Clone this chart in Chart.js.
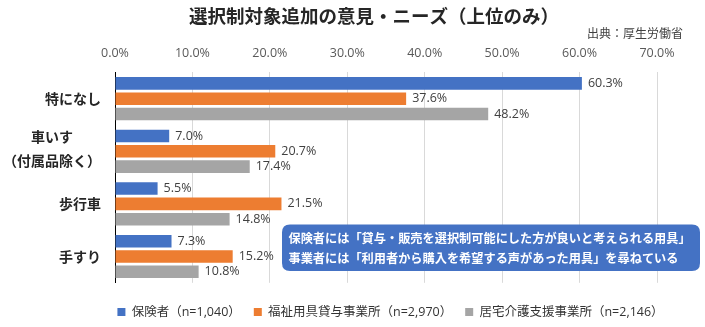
<!DOCTYPE html>
<html lang="ja">
<head>
<meta charset="utf-8">
<script src="https://cdn.jsdelivr.net/npm/chart.js@4"></script>
<style>
  html, body { margin: 0; padding: 0; background: #ffffff; }
  #wrap { width: 705px; height: 327px; }
</style>
</head>
<body>
<div id="wrap"><canvas id="c" width="705" height="327"></canvas></div>
<script>
// ---- data ----
const TITLE = '選択制対象追加の意見・ニーズ（上位のみ）';
const SOURCE = '出典：厚生労働省';
const CATEGORIES = ['特になし', ['車いす', '（付属品除く）'], '歩行車', '手すり'];
const SERIES_NAMES = ['保険者（n=1,040）', '福祉用具貸与事業所（n=2,970）', '居宅介護支援事業所（n=2,146）'];
const INSURER = [60.3, 7.0, 5.5, 7.3];
const RENTAL_PROVIDER = [37.6, 20.7, 21.5, 15.2];
const CARE_SUPPORT = [48.2, 17.4, 14.8, 10.8];
const X_TICKS = [0, 10, 20, 30, 40, 50, 60, 70];
const NOTE_LINES = [
  '保険者には「貸与・販売を選択制可能にした方が良いと考えられる用具」',
  '事業者には「利用者から購入を希望する声があった用具」を尋ねている'
];

// ---- styles ----
const JP = "'Noto Sans CJK JP', sans-serif";
const NUM = "'Open Sans', 'Noto Sans CJK JP', sans-serif";
const COLORS = ['#4472C4', '#ED7D31', '#A5A5A5'];

const legendFitPlugin = {
  id: 'legendFit',
  beforeLayout(chart) {
    const lg = chart.legend;
    if (lg && !lg._patched) {
      const orig = lg.fit;
      lg.fit = function () {
        const mw = this.maxWidth;
        this.maxWidth = 2000;
        orig.call(this);
        this.maxWidth = mw;
        this.width = mw;
        this.height = 44.2;
      };
      lg._patched = true;
    }
  },
  afterLayout(chart) {
    const lg = chart.legend;
    if (lg) {
      lg.left = 76;
      lg.right = 705;
      lg.width = lg.right - lg.left;
    }
  }
};

const decorPlugin = {
  id: 'decor',
  afterDraw(chart) {
    const ctx = chart.ctx;
    const y = chart.scales.y;
    ctx.save();
    // Title
    ctx.fillStyle = '#262626';
    ctx.font = `bold 18.5px ${JP}`;
    ctx.textAlign = 'center';
    ctx.textBaseline = 'middle';
    ctx.fillText(TITLE, 374, 16);
    // Source
    ctx.fillStyle = '#404040';
    ctx.font = `12px ${JP}`;
    ctx.textAlign = 'right';
    ctx.fillText(SOURCE, 683, 33.5);
    // Category labels
    ctx.fillStyle = '#262626';
    ctx.font = `bold 14px ${JP}`;
    ctx.textAlign = 'center';
    const right = 101;
    chart.data.labels.forEach((lab, i) => {
      const c = y.getPixelForTick(i);
      const lines = Array.isArray(lab) ? lab : [lab];
      const w = Math.max(...lines.map(l => ctx.measureText(l).width));
      const cx = right - w / 2;
      if (lines.length === 1) {
        ctx.fillText(lines[0], cx, c);
      } else {
        const lh = 24;
        const start = c - 2.5 - (lines.length - 1) * lh / 2;
        lines.forEach((l, k) => ctx.fillText(l, cx, start + k * lh));
      }
    });
    // Value labels
    ctx.fillStyle = '#404040';
    ctx.font = `12.5px ${NUM}`;
    ctx.textAlign = 'left';
    chart.data.datasets.forEach((ds, di) => {
      const meta = chart.getDatasetMeta(di);
      meta.data.forEach((bar, j) => {
        ctx.fillText(ds.data[j].toFixed(1) + '%', bar.x + 6, bar.y);
      });
    });
    // Note box
    const bx = 282, by = 224.5, bw = 418, bh = 46.5, r = 8;
    ctx.beginPath();
    ctx.moveTo(bx + r, by);
    ctx.lineTo(bx + bw - r, by);
    ctx.quadraticCurveTo(bx + bw, by, bx + bw, by + r);
    ctx.lineTo(bx + bw, by + bh - r);
    ctx.quadraticCurveTo(bx + bw, by + bh, bx + bw - r, by + bh);
    ctx.lineTo(bx + r, by + bh);
    ctx.quadraticCurveTo(bx, by + bh, bx, by + bh - r);
    ctx.lineTo(bx, by + r);
    ctx.quadraticCurveTo(bx, by, bx + r, by);
    ctx.closePath();
    ctx.fillStyle = '#4472C4';
    ctx.fill();
    ctx.fillStyle = '#ffffff';
    ctx.font = `bold 12.2px ${JP}`;
    ctx.textAlign = 'left';
    ctx.fillText(NOTE_LINES[0], 288.5, 238.5);
    ctx.fillText(NOTE_LINES[1], 288.5, 258.5);
    ctx.restore();
  }
};

new Chart(document.getElementById('c'), {
  type: 'bar',
  data: {
    labels: CATEGORIES,
    datasets: [
      { label: SERIES_NAMES[0], data: INSURER, backgroundColor: COLORS[0] },
      { label: SERIES_NAMES[1], data: RENTAL_PROVIDER, backgroundColor: COLORS[1] },
      { label: SERIES_NAMES[2], data: CARE_SUPPORT, backgroundColor: COLORS[2] }
    ]
  },
  options: {
    indexAxis: 'y',
    responsive: false,
    animation: false,
    devicePixelRatio: 1,
    layout: { padding: { top: 0, left: 0, right: 48, bottom: 0 } },
    datasets: { bar: { categoryPercentage: 0.873, barPercentage: 0.82 } },
    scales: {
      x: {
        position: 'top',
        min: X_TICKS[0],
        max: X_TICKS[X_TICKS.length - 1],
        afterBuildTicks(scale) { scale.ticks = X_TICKS.map(v => ({ value: v })); },
        afterFit(scale) { scale.height = 72.4; },
        grid: { color: '#d9d9d9', drawTicks: false, lineWidth: 1 },
        border: { display: false },
        ticks: {
          padding: 11.6,
          color: '#595959',
          font: { family: NUM, size: 12.5 },
          callback: v => Number(v).toFixed(1) + '%'
        }
      },
      y: {
        afterFit(scale) { scale.width = 115; },
        grid: { display: false },
        border: { display: true, color: '#000000', width: 1 },
        ticks: { display: false }
      }
    },
    plugins: {
      tooltip: { enabled: false },
      legend: {
        position: 'bottom',
        fullSize: false,
        title: { display: true, text: ' ', font: { size: 1, lineHeight: 1 }, padding: { top: 8.95, bottom: 0 } },
        labels: {
          boxWidth: 8,
          boxHeight: 8,
          padding: 13,
          color: '#333333',
          font: { family: NUM, size: 12.5 }
        }
      }
    }
  },
  plugins: [legendFitPlugin, decorPlugin]
});
</script>
</body>
</html>
